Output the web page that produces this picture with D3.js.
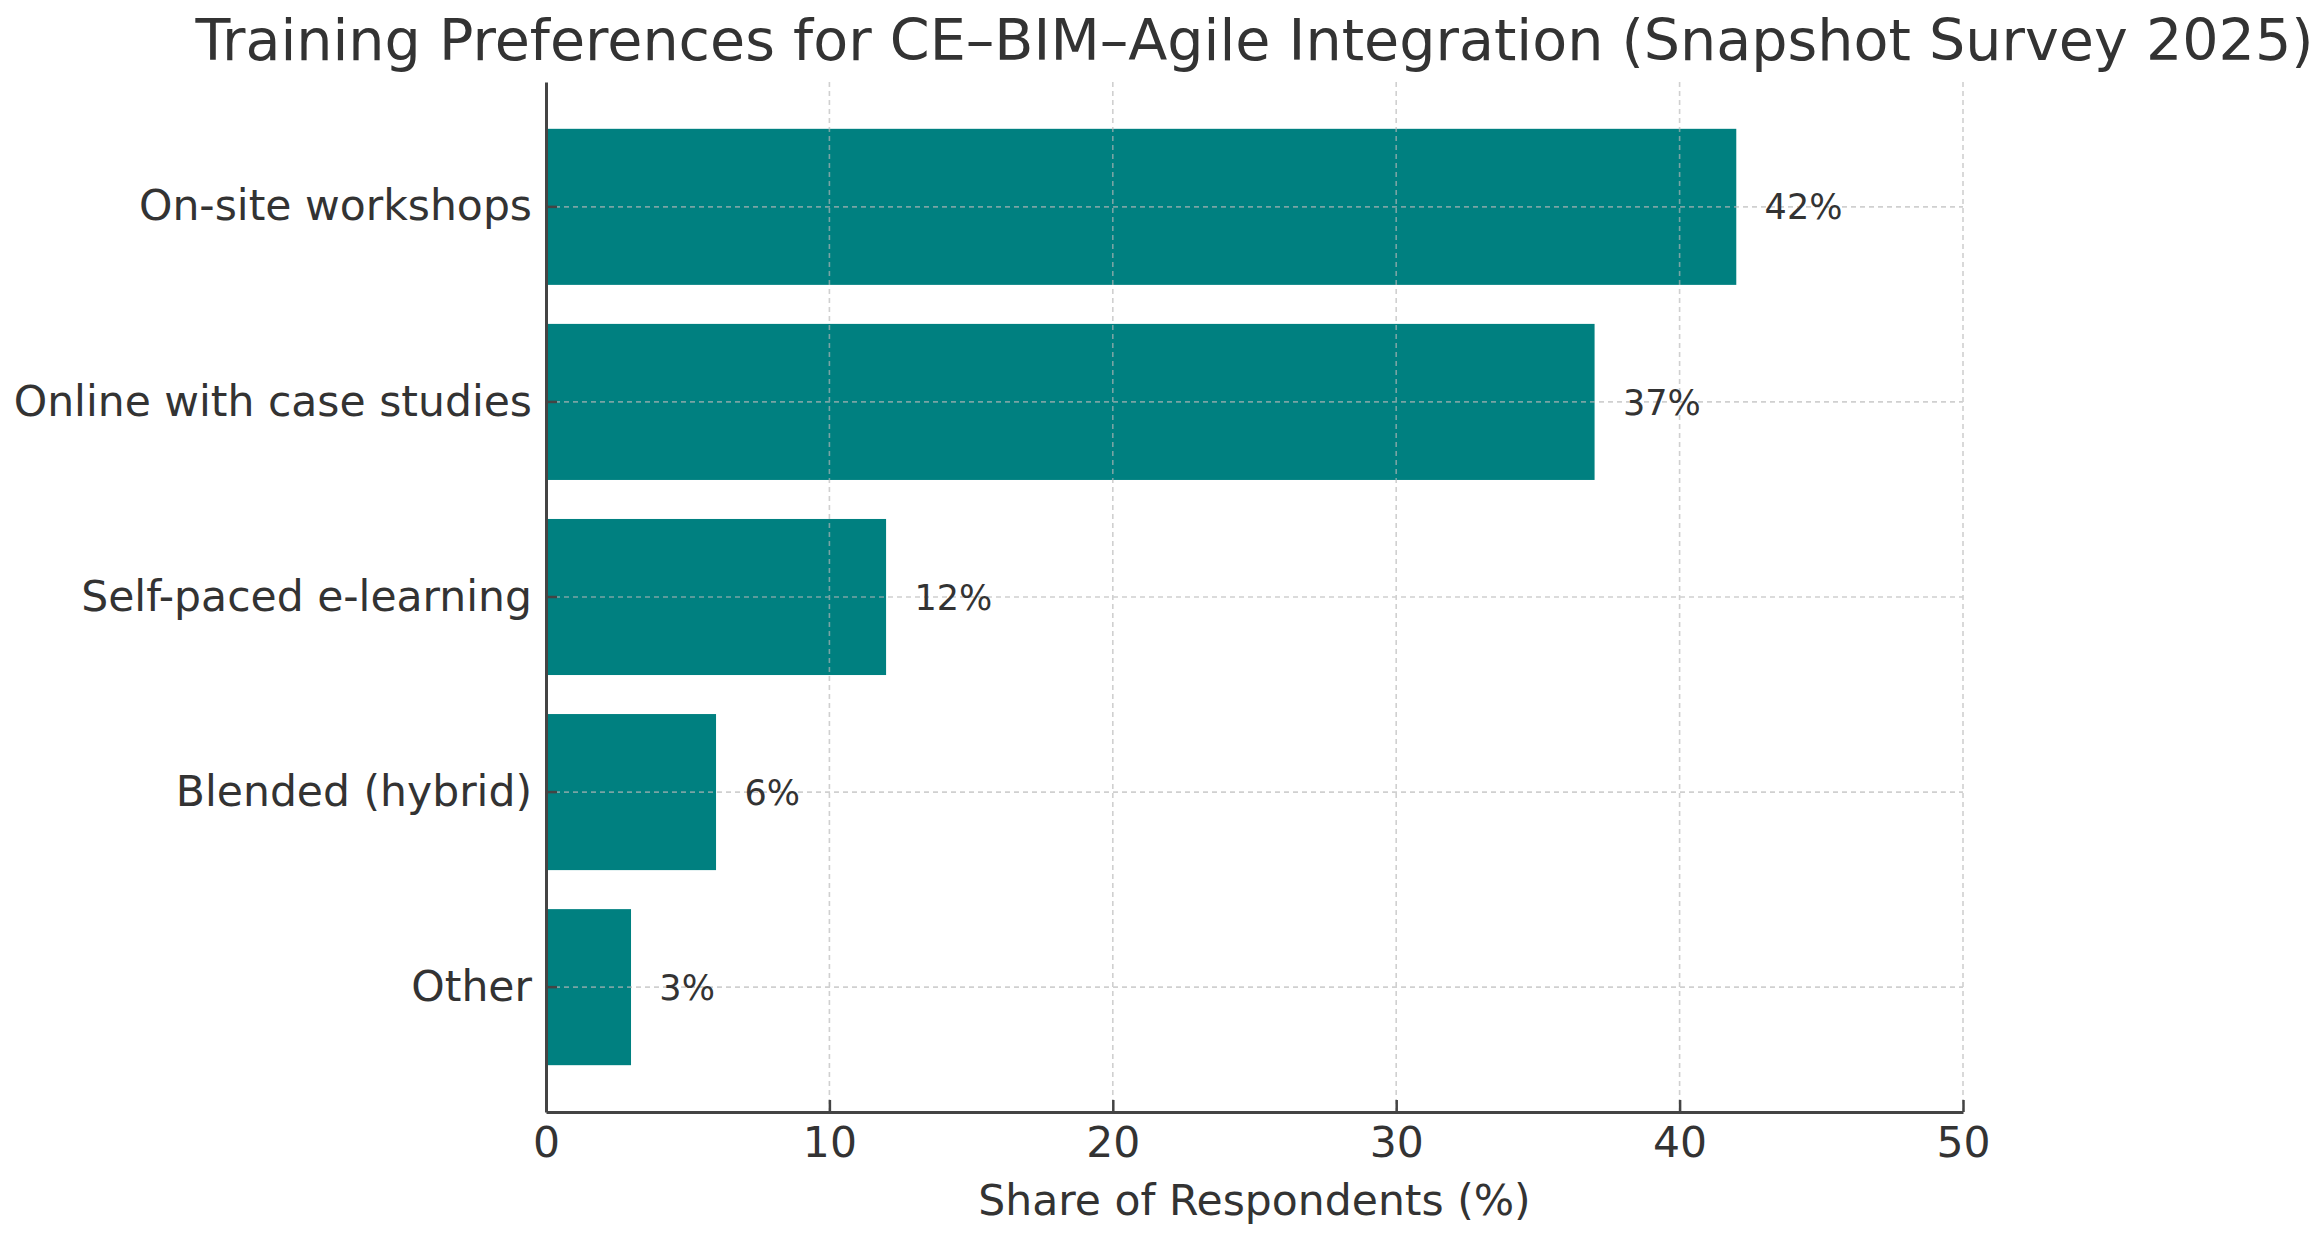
<html>
<head>
<meta charset="utf-8">
<title>Training Preferences</title>
<script src="https://d3js.org/d3.v7.min.js"></script>
<style>
  body { margin: 0; background: #fff; }
  text { font-family: "DejaVu Sans", sans-serif; }
</style>
</head>
<body>
<div id="chart"></div>
<script>
// data
var categories = ["On-site workshops", "Online with case studies", "Self-paced e-learning", "Blended (hybrid)", "Other"];
var shares = [42, 37, 12, 6, 3];
var xTicks = [0, 10, 20, 30, 40, 50];
var titleText = "Training Preferences for CE\u2013BIM\u2013Agile Integration (Snapshot Survey 2025)";
var xLabel = "Share of Respondents (%)";

var width = 2322, height = 1237;
var margin = {top: 82, right: 359, bottom: 125, left: 546};
var w = width - margin.left - margin.right;
var h = height - margin.top - margin.bottom;

var rows = categories.map(function(c, i) { return {cat: c, val: shares[i]}; });

var svg = d3.select("#chart").append("svg")
    .attr("width", width)
    .attr("height", height)
    .style("display", "block");

var g = svg.append("g").attr("transform", "translate(" + margin.left + "," + margin.top + ")");

var x = d3.scaleLinear().domain([0, 50]).range([0, w]);
var y = d3.scaleBand().domain(categories).range([0, h])
    .paddingInner(0.2).paddingOuter(0.24);

// bars
g.selectAll(".bar")
    .data(rows)
    .enter()
    .append("rect")
    .classed("bar", true)
    .attr("x", x(0))
    .attr("y", function(d) { return y(d.cat); })
    .attr("width", function(d) { return x(d.val) - x(0); })
    .attr("height", y.bandwidth())
    .style("fill", "#008080");

// grid (on top of bars, faint)
var grid = g.append("g").attr("class", "grid")
    .style("stroke", "#b8b8b8")
    .style("stroke-width", 1.6)
    .style("stroke-dasharray", "5,4")
    .style("opacity", 0.65);

grid.selectAll(".vgrid")
    .data(xTicks.slice(1))
    .enter()
    .append("line")
    .attr("x1", function(d) { return x(d); })
    .attr("x2", function(d) { return x(d); })
    .attr("y1", 0)
    .attr("y2", h);

grid.selectAll(".hgrid")
    .data(categories)
    .enter()
    .append("line")
    .attr("x1", 0)
    .attr("x2", w)
    .attr("y1", function(d) { return y(d) + y.bandwidth() / 2; })
    .attr("y2", function(d) { return y(d) + y.bandwidth() / 2; });

// value labels
g.selectAll(".val")
    .data(rows)
    .enter()
    .append("text")
    .classed("val", true)
    .attr("x", function(d) { return x(d.val + 1); })
    .attr("y", function(d) { return y(d.cat) + y.bandwidth() / 2; })
    .attr("dy", "0.36em")
    .style("font-size", "35px")
    .style("fill", "#333")
    .text(function(d) { return d.val + "%"; });

// axes
var xAxis = g.append("g")
    .attr("transform", "translate(0," + h + ")")
    .call(d3.axisBottom(x).tickValues(xTicks).tickFormat(d3.format("d"))
        .tickSizeInner(-12).tickSizeOuter(0).tickPadding(15));

var yAxis = g.append("g")
    .call(d3.axisLeft(y).tickSizeInner(-11).tickSizeOuter(0).tickPadding(14));

[xAxis, yAxis].forEach(function(a) {
    a.select(".domain").style("stroke", "#444").style("stroke-width", 3);
    a.selectAll(".tick line").style("stroke", "#444").style("stroke-width", 2.5);
    a.selectAll(".tick text")
        .style("font-family", "'DejaVu Sans', sans-serif")
        .style("font-size", "42.5px")
        .style("fill", "#333");
});

// axis label
svg.append("text")
    .attr("x", margin.left + w / 2)
    .attr("y", 1215)
    .attr("text-anchor", "middle")
    .style("font-size", "42.5px")
    .style("fill", "#333")
    .text(xLabel);

// title, sized so it spans like the original (clipped at the right edge)
var title = svg.append("text")
    .attr("x", margin.left + w / 2)
    .attr("y", 60)
    .attr("text-anchor", "middle")
    .style("font-size", "57px")
    .style("fill", "#333")
    .text(titleText);
var tw = title.node().getComputedTextLength();
var target = 2 * (margin.left + w / 2 - 195);
title.style("font-size", (57 * target / tw) + "px");
</script>
</body>
</html>
